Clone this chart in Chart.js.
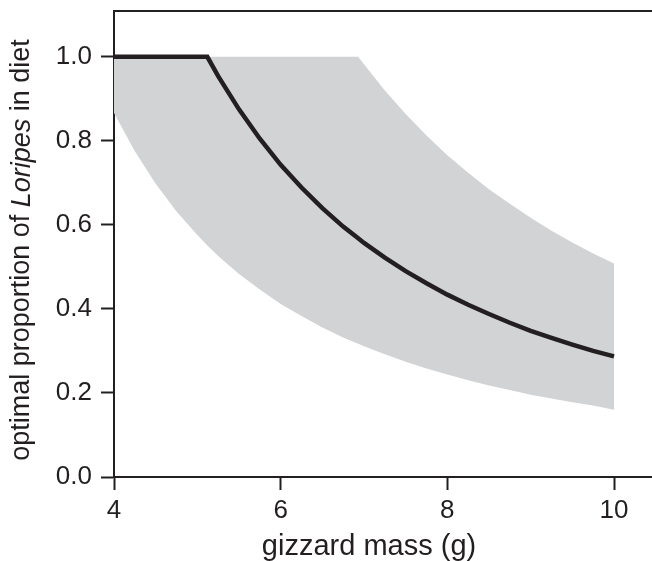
<!DOCTYPE html>
<html>
<head>
<meta charset="utf-8">
<script src="https://cdn.jsdelivr.net/npm/chart.js@4"></script>
<style>
  html, body { margin: 0; padding: 0; background: #ffffff; }
  #wrap { width: 652px; height: 561px; }
</style>
</head>
<body>
<div id="wrap"><canvas id="c" width="652" height="561"></canvas></div>
<script>
// gizzard mass (g)
const gizzardMass = [4, 4.25, 4.5, 4.75, 5, 5.12, 5.25, 5.5, 5.75, 6, 6.25, 6.5, 6.75, 6.93, 7, 7.25, 7.5, 7.75, 8, 8.25, 8.5, 8.75, 9, 9.25, 9.5, 9.75, 10];
// optimal proportion of Loripes (black line)
const optimalProportion = [1.0, 1.0, 1.0, 1.0, 1.0, 1.0, 0.954, 0.875, 0.805, 0.743, 0.689, 0.640, 0.596, 0.568, 0.557, 0.522, 0.490, 0.461, 0.434, 0.410, 0.388, 0.367, 0.348, 0.331, 0.315, 0.300, 0.287];
// grey band: lower and upper bounds
const bandLower = [0.866, 0.775, 0.698, 0.632, 0.576, 0.551, 0.526, 0.483, 0.446, 0.412, 0.383, 0.356, 0.332, 0.317, 0.311, 0.292, 0.274, 0.258, 0.244, 0.230, 0.218, 0.207, 0.196, 0.187, 0.178, 0.170, 0.160];
const bandUpper = [1.0, 1.0, 1.0, 1.0, 1.0, 1.0, 1.0, 1.0, 1.0, 1.0, 1.0, 1.0, 1.0, 1.0, 0.982, 0.920, 0.864, 0.813, 0.766, 0.724, 0.685, 0.650, 0.617, 0.586, 0.558, 0.532, 0.508];
// axes
const xTickValues = [4, 6, 8, 10];
const yTickValues = [0.0, 0.2, 0.4, 0.6, 0.8, 1.0];
const xTitle = "gizzard mass (g)";
const yTitleParts = [["optimal proportion of ", false], ["Loripes", true], [" in diet", false]];

const INK = '#231f20';
const BAND = '#d1d3d4';
const FONT = '"Liberation Sans", Arial, Helvetica, sans-serif';

const toPts = (ys) => gizzardMass.map((x, i) => ({ x: x, y: ys[i] }));

const titlesPlugin = {
  id: 'titles',
  afterDraw(chart) {
    const ctx = chart.ctx;
    const ca = chart.chartArea;
    ctx.save();
    // top frame line
    ctx.strokeStyle = INK;
    ctx.lineWidth = 2;
    ctx.beginPath();
    ctx.moveTo(ca.left - 1, ca.top);
    ctx.lineTo(chart.width, ca.top);
    ctx.stroke();
    // x title
    ctx.fillStyle = INK;
    ctx.font = '29px ' + FONT;
    ctx.textAlign = 'center';
    ctx.textBaseline = 'middle';
    ctx.fillText(xTitle, 369, 547);
    // y title (mixed italic)
    const fontN = '27px ' + FONT;
    const fontI = 'italic 27px ' + FONT;
    let total = 0;
    const widths = yTitleParts.map(([t, it]) => { ctx.font = it ? fontI : fontN; const w = ctx.measureText(t).width; total += w; return w; });
    ctx.translate(22, 250);
    ctx.rotate(-Math.PI / 2);
    ctx.textAlign = 'left';
    let xpos = -total / 2;
    yTitleParts.forEach(([t, it], i) => {
      ctx.font = it ? fontI : fontN;
      ctx.fillText(t, xpos, 0);
      xpos += widths[i];
    });
    ctx.restore();
  }
};

new Chart(document.getElementById('c'), {
  type: 'line',
  data: {
    datasets: [
      {
        label: 'lower',
        data: toPts(bandLower),
        borderWidth: 0,
        borderColor: 'rgba(0,0,0,0)',
        pointRadius: 0,
        fill: false,
        tension: 0,
        order: 3
      },
      {
        label: 'upper',
        data: toPts(bandUpper),
        borderWidth: 0,
        borderColor: 'rgba(0,0,0,0)',
        backgroundColor: BAND,
        pointRadius: 0,
        fill: '-1',
        tension: 0,
        order: 2
      },
      {
        label: 'optimal',
        data: toPts(optimalProportion),
        borderColor: INK,
        borderWidth: 4.5,
        pointRadius: 0,
        fill: false,
        tension: 0,
        borderJoinStyle: 'miter',
        borderCapStyle: 'butt',
        order: 1
      }
    ]
  },
  options: {
    responsive: false,
    animation: false,
    devicePixelRatio: 1,
    layout: { padding: { top: 11, left: 0, right: 0, bottom: 0 } },
    plugins: { legend: { display: false }, tooltip: { enabled: false }, title: { display: false } },
    scales: {
      x: {
        type: 'linear',
        min: 4,
        max: 10.456,
        afterFit(s) { s.height = 84; s.paddingLeft = 0; s.paddingRight = 0; },
        afterBuildTicks(s) { s.ticks = xTickValues.map(v => ({ value: v })); },
        ticks: {
          includeBounds: false,
          color: INK,
          font: { family: FONT, size: 26 },
          padding: 5,
          maxRotation: 0,
          callback: (v) => String(v)
        },
        grid: { drawOnChartArea: false, drawTicks: true, tickLength: 13, tickColor: INK, tickWidth: 2 },
        border: { display: true, color: INK, width: 2 }
      },
      y: {
        type: 'linear',
        min: 0,
        max: 1.109,
        afterFit(s) { s.width = 114; s.paddingTop = 0; s.paddingBottom = 0; },
        afterBuildTicks(s) { s.ticks = yTickValues.map(v => ({ value: v })); },
        ticks: {
          includeBounds: false,
          color: INK,
          font: { family: FONT, size: 26 },
          padding: 9,
          callback: (v) => Number(v).toFixed(1)
        },
        grid: { drawOnChartArea: false, drawTicks: true, tickLength: 13, tickColor: INK, tickWidth: 2 },
        border: { display: true, color: INK, width: 2 }
      }
    }
  },
  plugins: [titlesPlugin]
});
</script>
</body>
</html>
